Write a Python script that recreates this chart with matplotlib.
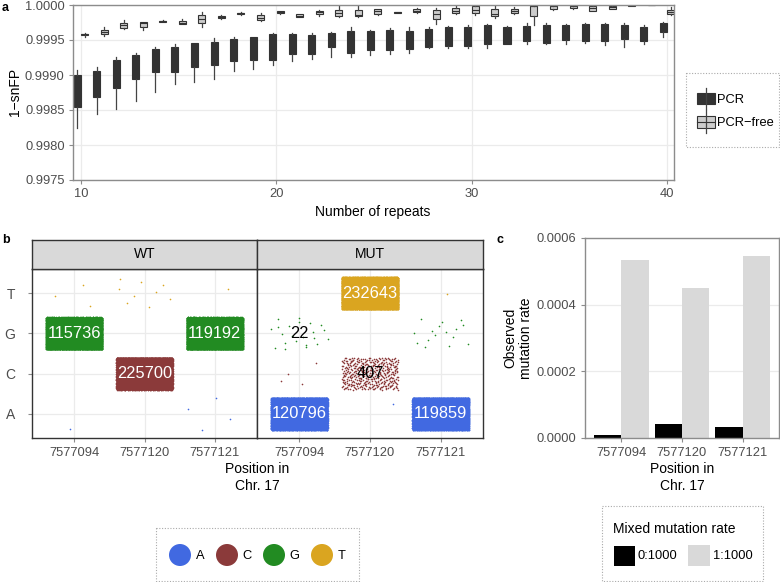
import numpy as np
import matplotlib
matplotlib.use("Agg")
import matplotlib.pyplot as plt
from matplotlib.patches import Rectangle, Ellipse

plt.rcParams['font.family'] = ['Liberation Sans', 'DejaVu Sans']

# ---------------- data ----------------
repeats = list(range(10, 41))
pcr_hi = [0.99907,0.99912,0.99926,0.99931,0.99940,0.99944,0.99946,0.99953,0.99954,0.99955,0.99960,0.99960,0.99960,0.99961,0.99968,0.99964,0.99967,0.99969,0.99968,0.99970,0.99971,0.99973,0.99970,0.99975,0.99975,0.99973,0.99974,0.99974,0.99975,0.99972,0.99976]
pcr_q3 = [0.99900,0.99906,0.99921,0.99928,0.99937,0.99940,0.99946,0.99947,0.99951,0.99955,0.99958,0.99958,0.99957,0.99960,0.99963,0.99963,0.99964,0.99963,0.99966,0.99968,0.99968,0.99971,0.99969,0.99970,0.99972,0.99972,0.99973,0.99973,0.99971,0.99969,0.99975]
pcr_med = [0.99877,0.99887,0.99901,0.99911,0.99921,0.99922,0.99929,0.99931,0.99936,0.99938,0.99940,0.99944,0.99944,0.99950,0.99948,0.99950,0.99950,0.99950,0.99953,0.99955,0.99955,0.99958,0.99957,0.99960,0.99959,0.99961,0.99961,0.99961,0.99961,0.99959,0.99968]
pcr_q1 = [0.99854,0.99868,0.99881,0.99894,0.99904,0.99904,0.99912,0.99914,0.99920,0.99921,0.99922,0.99930,0.99930,0.99940,0.99932,0.99936,0.99936,0.99937,0.99940,0.99941,0.99941,0.99944,0.99944,0.99949,0.99946,0.99950,0.99949,0.99949,0.99951,0.99949,0.99961]
pcr_lo = [0.99824,0.99844,0.99852,0.99863,0.99876,0.99887,0.99890,0.99895,0.99906,0.99908,0.99914,0.99920,0.99923,0.99926,0.99926,0.99928,0.99930,0.99932,0.99939,0.99938,0.99939,0.99939,0.99944,0.99944,0.99945,0.99944,0.99946,0.99943,0.99940,0.99945,0.99955]

free_hi = [0.99960,0.99968,0.99978,0.99976,0.99978,0.99980,0.99990,0.99986,0.99990,0.99988,0.99992,0.99987,0.99993,0.99998,1.00000,0.99994,0.99990,0.99996,0.99996,0.99999,1.00000,1.00000,0.99997,1.00000,1.00000,1.00000,1.00000,1.00000,1.00000,1.00000,0.99997]
free_q3 = [0.99959,0.99965,0.99974,0.99976,0.99977,0.99977,0.99986,0.99985,0.99989,0.99986,0.99991,0.99987,0.99992,0.99993,0.99993,0.99994,0.99990,0.99995,0.99993,0.99996,0.99998,0.99994,0.99994,0.99999,0.99999,0.99999,0.99999,0.99999,1.00000,1.00000,0.99993]
free_med = [0.99958,0.99961,0.99971,0.99974,0.99977,0.99975,0.99980,0.99983,0.99988,0.99982,0.99990,0.99985,0.99990,0.99989,0.99986,0.99991,0.99990,0.99992,0.99987,0.99992,0.99993,0.99987,0.99992,0.99998,0.99998,0.99998,0.99996,0.99997,1.00000,1.00000,0.99990]
free_q1 = [0.99957,0.99958,0.99967,0.99969,0.99976,0.99973,0.99974,0.99981,0.99987,0.99979,0.99988,0.99983,0.99987,0.99984,0.99984,0.99987,0.99989,0.99990,0.99980,0.99989,0.99988,0.99985,0.99989,0.99984,0.99994,0.99996,0.99992,0.99995,0.99999,1.00000,0.99987]
free_lo = [0.99955,0.99956,0.99966,0.99965,0.99976,0.99973,0.99968,0.99980,0.99986,0.99977,0.99987,0.99983,0.99985,0.99983,0.99983,0.99986,0.99989,0.99988,0.99973,0.99987,0.99986,0.99982,0.99987,0.99971,0.99993,0.99995,0.99991,0.99994,0.99999,1.00000,0.99986]

positions = ["7577094", "7577120", "7577121"]
bases = ["A", "C", "G", "T"]
base_colors = {"A": "#4169E1", "C": "#8B3A3A", "G": "#228B22", "T": "#DAA520"}
# read counts per sample / base, over the three positions
wt_counts = {"A": [1, 0, 4], "C": [0, 225700, 0], "G": [115736, 0, 119192], "T": [3, 9, 1]}
mut_counts = {"A": [120796, 1, 119859], "C": [4, 407, 0], "G": [22, 0, 16], "T": [0, 232643, 1]}

rate_groups = ["0:1000", "1:1000"]
rate_0 = [0.000008, 0.000042, 0.000032]
rate_1 = [0.000534, 0.000449, 0.000547]

# ---------------- figure ----------------
W, H = 780, 582
fig = plt.figure(figsize=(7.8, 5.82), dpi=100)

def px_axes(x0, y0, x1, y1):
    return fig.add_axes([x0 / W, 1 - y1 / H, (x1 - x0) / W, (y1 - y0) / H])

TICKC = '#4d4d4d'
GRID = '#ebebeb'

# ---------------- panel a ----------------
ax = px_axes(73, 5, 674, 180)
def mkstats(lo, q1, med, q3, hi):
    return [dict(whislo=a, q1=b, med=c, q3=d, whishi=e, fliers=[])
            for a, b, c, d, e in zip(lo, q1, med, q3, hi)]
rp = np.array(repeats, dtype=float)
ax.bxp(mkstats(pcr_lo, pcr_q1, pcr_med, pcr_q3, pcr_hi), positions=rp - 0.19, widths=0.36,
       patch_artist=True, showcaps=False, showfliers=False, manage_ticks=False,
       boxprops=dict(facecolor='#333333', edgecolor='#333333', linewidth=0.8),
       whiskerprops=dict(color='#444444', linewidth=0.9),
       medianprops=dict(color='#333333', linewidth=0.8))
ax.bxp(mkstats(free_lo, free_q1, free_med, free_q3, free_hi), positions=rp + 0.19, widths=0.36,
       patch_artist=True, showcaps=False, showfliers=False, manage_ticks=False,
       boxprops=dict(facecolor='#cccccc', edgecolor='#333333', linewidth=0.8),
       whiskerprops=dict(color='#444444', linewidth=0.9),
       medianprops=dict(color='#333333', linewidth=0.8))
ax.set_xlim(9.59, 40.36)
ax.set_ylim(0.9975, 1.0)
ax.set_xticks([10, 20, 30, 40])
yt = [0.9975, 0.9980, 0.9985, 0.9990, 0.9995, 1.0000]
ax.set_yticks(yt)
ax.set_yticklabels([f"{v:.4f}" for v in yt])
ax.grid(True, color=GRID, lw=0.9)
ax.set_axisbelow(True)
for s in ax.spines.values():
    s.set_color('#8c8c8c'); s.set_linewidth(1.0)
ax.tick_params(length=3, color='#8c8c8c', labelsize=9.3, labelcolor=TICKC, pad=3)
fig.text(15 / W, 1 - 92 / H, "1\u2212snFP", rotation=90, ha='center', va='center', fontsize=10)
fig.text(373 / W, 1 - 212 / H, "Number of repeats", ha='center', va='center', fontsize=10)

# ---------------- panel b ----------------
def halton_seq(start, k, b):
    out = np.empty(k)
    for j in range(k):
        i = start + j
        f, r = 1.0, 0.0
        while i > 0:
            f /= b
            r += f * (i % b)
            i //= b
        out[j] = r
    return out

def draw_facet(axp, counts, show_y, cell_offset):
    axp.set_xlim(0.4, 3.6)
    axp.set_ylim(0.4, 4.6)
    axp.set_xticks([1, 2, 3])
    axp.set_xticklabels(positions)
    axp.set_yticks([1, 2, 3, 4])
    axp.set_yticklabels(bases if show_y else [])
    axp.grid(True, color=GRID, lw=0.9)
    axp.set_axisbelow(True)
    for s in axp.spines.values():
        s.set_color('#333333'); s.set_linewidth(1.0)
    axp.tick_params(length=3, color='#8c8c8c', labelsize=9.3, labelcolor=TICKC)
    axp.tick_params(axis='y', pad=9, labelsize=10)
    if not show_y:
        axp.tick_params(axis='y', length=0)
    cid = cell_offset
    for bi, b in enumerate(bases):
        for pi, n in enumerate(counts[b]):
            cid += 1
            if n <= 0:
                continue
            k = min(n, 9000)
            start = 1 + 53 * cid
            jx = halton_seq(start, k, 2)
            jy = halton_seq(start, k, 3)
            axp.scatter(pi + 1 + (jx - 0.5) * 0.8, bi + 1 + (jy - 0.5) * 0.8,
                        s=1.4, c=base_colors[b], linewidths=0, zorder=2)
            if n >= 20:
                axp.text(pi + 1, bi + 1, str(n), ha='center', va='center', fontsize=11.8,
                         color='white' if n >= 1000 else 'black', zorder=3)

axW = px_axes(32, 269, 257, 438)
axM = px_axes(257, 269, 483, 438)
draw_facet(axW, wt_counts, True, 0)
draw_facet(axM, mut_counts, False, 12)
for (x0, x1, lab) in [(32, 257, "WT"), (257, 483, "MUT")]:
    st = px_axes(x0, 240, x1, 269)
    st.set_facecolor('#d9d9d9')
    st.set_xticks([]); st.set_yticks([])
    for s in st.spines.values():
        s.set_color('#333333'); s.set_linewidth(1.0)
    st.text(0.5, 0.5, lab, transform=st.transAxes, ha='center', va='center', fontsize=10)
fig.text(257 / W, 1 - 477.5 / H, "Position in\nChr. 17", ha='center', va='center', fontsize=10)

# ---------------- panel c ----------------
axc = px_axes(585, 238, 779, 438)
xc = np.arange(1, 4)
axc.bar(xc - 0.225, rate_0, width=0.45, color='black', zorder=2)
axc.bar(xc + 0.225, rate_1, width=0.45, color='#d9d9d9', zorder=2)
axc.set_xlim(0.4, 3.6)
axc.set_ylim(0, 0.0006)
axc.set_xticks(xc)
axc.set_xticklabels(positions)
yc = [0.0, 0.0002, 0.0004, 0.0006]
axc.set_yticks(yc)
axc.set_yticklabels([f"{v:.4f}" for v in yc])
axc.yaxis.grid(True, color=GRID, lw=0.9)
axc.set_axisbelow(True)
for s in axc.spines.values():
    s.set_color('#8c8c8c'); s.set_linewidth(1.0)
axc.tick_params(length=3, color='#8c8c8c', labelsize=9.3, labelcolor=TICKC)
fig.text(518 / W, 1 - 338 / H, "Observed\nmutation rate", rotation=90, ha='center', va='center', fontsize=10)
fig.text(682 / W, 1 - 477.5 / H, "Position in\nChr. 17", ha='center', va='center', fontsize=10)

# ---------------- legends & letters (overlay in pixel coords) ----------------
ov = fig.add_axes([0, 0, 1, 1])
ov.set_xlim(0, W); ov.set_ylim(H, 0); ov.axis('off')
dot = (0, (1, 1.5))
# legend a
ov.add_patch(Rectangle((686, 73), 93, 74, fill=False, ec='#aaaaaa', lw=0.8, ls=dot))
ov.plot([706, 706], [88, 109], color='#444444', lw=0.9)
ov.add_patch(Rectangle((697, 93.3), 18, 11, fc='#333333', ec='#333333', lw=0.8))
ov.plot([706, 706], [110, 133], color='#444444', lw=0.9)
ov.add_patch(Rectangle((697, 116), 18, 11.7, fc='#cccccc', ec='#333333', lw=0.8))
ov.plot([697, 715], [121.8, 121.8], color='#333333', lw=0.8)
ov.text(717, 100, "PCR", ha='left', va='center', fontsize=9.3)
ov.text(717, 123.5, "PCR\u2212free", ha='left', va='center', fontsize=9.3)
# legend b
ov.add_patch(Rectangle((156, 528), 203, 53, fill=False, ec='#aaaaaa', lw=0.8, ls=dot))
for cx, tx, b in [(180, 196, "A"), (227, 242, "C"), (274, 289, "G"), (322, 338, "T")]:
    ov.add_patch(Ellipse((cx, 555), 22, 22, fc=base_colors[b], ec='none'))
    ov.text(tx, 556, b, ha='left', va='center', fontsize=9.3)
# legend c
ov.add_patch(Rectangle((602, 506), 161, 75, fill=False, ec='#aaaaaa', lw=0.8, ls=dot))
ov.text(613, 529, "Mixed mutation rate", ha='left', va='center', fontsize=10)
ov.add_patch(Rectangle((614, 546), 21, 20, fc='black', ec='none'))
ov.text(638, 556, rate_groups[0], ha='left', va='center', fontsize=9.3)
ov.add_patch(Rectangle((688, 545), 22, 21, fc='#d9d9d9', ec='none'))
ov.text(713, 556, rate_groups[1], ha='left', va='center', fontsize=9.3)

fig.text(2 / W, 1 - 8 / H, "a", fontweight='bold', fontsize=9, va='center', ha='left')
fig.text(2 / W, 1 - 240 / H, "b", fontweight='bold', fontsize=9, va='center', ha='left')
fig.text(497 / W, 1 - 240 / H, "c", fontweight='bold', fontsize=9, va='center', ha='left')

fig.savefig("out.png", dpi=100)
